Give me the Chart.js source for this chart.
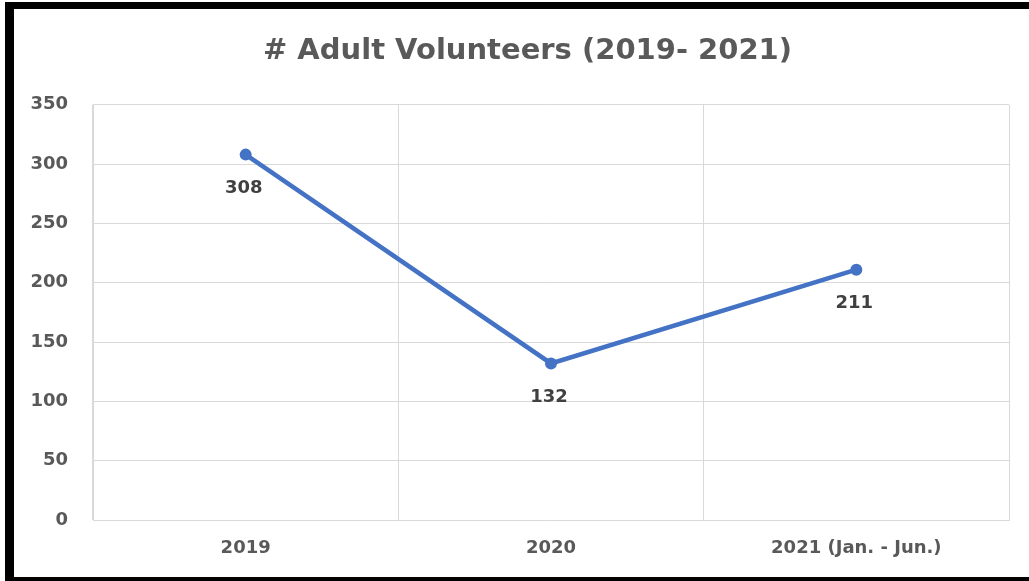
<!DOCTYPE html>
<html>
<head>
<meta charset="utf-8">
<script src="https://cdn.jsdelivr.net/npm/chart.js@4"></script>
<style>
  html, body { margin: 0; padding: 0; background: #ffffff; overflow: hidden; }
  #wrap { position: relative; width: 1029px; height: 581px; overflow: hidden; background: #fff; }
  #c { position: absolute; left: 0; top: 0; }
  #frame { position: absolute; left: 5px; top: 2px; width: 1024px; height: 579px;
           border-left: 9px solid #000; border-top: 7px solid #000; border-bottom: 4px solid #000;
           border-right: 0; box-sizing: border-box; pointer-events: none; }
</style>
</head>
<body>
<div id="wrap">
  <canvas id="c" width="1029" height="581"></canvas>
  <div id="frame"></div>
</div>
<script>
const titleText = "# Adult Volunteers (2019- 2021)";
const categories = ["2019", "2020", "2021 (Jan. - Jun.)"];
const volunteers = [308, 132, 211];
const yTicks = [0, 50, 100, 150, 200, 250, 300, 350];

const FONT = "'DejaVu Sans', 'Open Sans', sans-serif";

const dataLabelPlugin = {
  id: 'dataLabelsBelow',
  afterDatasetsDraw(chart) {
    const ctx = chart.ctx;
    chart.data.datasets.forEach((ds, i) => {
      const meta = chart.getDatasetMeta(i);
      meta.data.forEach((pt, j) => {
        ctx.save();
        ctx.font = "bold 18px " + FONT;
        ctx.fillStyle = "#404040";
        ctx.textAlign = "center";
        ctx.textBaseline = "middle";
        ctx.fillText(String(ds.data[j]), pt.x - 2, pt.y + 34);
        ctx.restore();
      });
    });
  }
};

// Shift the title box so that it is centred where the reference title sits.
const titleShiftPlugin = {
  id: 'titleShift',
  afterLayout(chart) {
    if (chart.titleBlock) {
      chart.titleBlock.left += 46;
    }
  }
};

new Chart(document.getElementById('c'), {
  type: 'line',
  data: {
    labels: categories,
    datasets: [{
      label: '# Adult Volunteers',
      data: volunteers,
      borderColor: '#4472C4',
      backgroundColor: '#4472C4',
      borderWidth: 4.5,
      pointRadius: 6,
      pointBackgroundColor: '#4472C4',
      pointBorderColor: '#4472C4',
      pointBorderWidth: 0,
      tension: 0,
      fill: false
    }]
  },
  options: {
    responsive: false,
    animation: false,
    devicePixelRatio: 1,
    layout: { padding: { left: 0, right: 20, top: 0, bottom: 0 } },
    plugins: {
      legend: { display: false },
      tooltip: { enabled: false },
      title: {
        display: true,
        text: titleText,
        color: '#595959',
        font: { family: FONT, size: 29, weight: 'bold' },
        padding: { top: 34, bottom: 36 }
      }
    },
    scales: {
      x: {
        offset: true,
        grid: { offset: true, color: '#d9d9d9', lineWidth: 1, drawTicks: false },
        border: { color: '#d9d9d9' },
        ticks: {
          color: '#595959',
          font: { family: FONT, size: 18, weight: 'bold' },
          padding: 18,
          maxRotation: 0
        },
        afterFit(scale) { scale.height = 61; }
      },
      y: {
        min: 0,
        max: 350,
        grid: { color: '#d9d9d9', lineWidth: 1, drawTicks: false },
        border: { color: '#d9d9d9' },
        afterBuildTicks(scale) { scale.ticks = yTicks.map(v => ({ value: v })); },
        ticks: {
          color: '#595959',
          font: { family: FONT, size: 18, weight: 'bold' },
          padding: 25
        },
        afterFit(scale) { scale.width = 93; }
      }
    }
  },
  plugins: [dataLabelPlugin, titleShiftPlugin]
});
</script>
</body>
</html>
